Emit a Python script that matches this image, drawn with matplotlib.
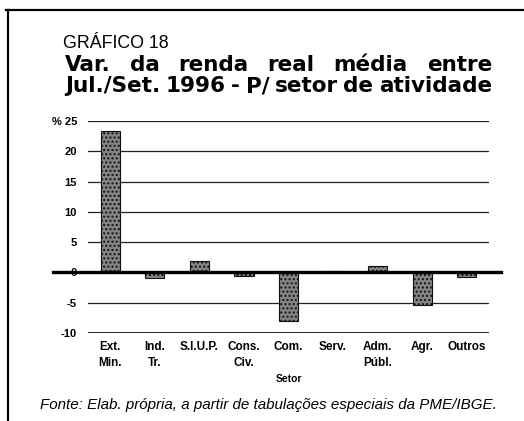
import matplotlib.pyplot as plt
import numpy as np
from matplotlib.lines import Line2D

plt.rcParams['font.family'] = ['Liberation Sans', 'DejaVu Sans']

# Data
setores = ["Ext.\nMin.", "Ind.\nTr.", "S.I.U.P.", "Cons.\nCiv.", "Com.",
           "Serv.", "Adm.\nPúbl.", "Agr.", "Outros"]
variacao = [23.3, -1.0, 1.9, -0.6, -8.1, 0.2, 1.0, -5.3, -0.7]
yticks = [-10, -5, 0, 5, 10, 15, 20, 25]
ytick_labels = ["-10", "-5", "0", "5", "10", "15", "20", "% 25"]

W, H = 524, 421
fig = plt.figure(figsize=(W / 100, H / 100), dpi=100)
renderer = fig.canvas.get_renderer()


def px(x, y):
    # pixel coords (from top-left) -> figure fraction
    return x / W, 1 - y / H


def fit_text(s, x0, x1, y, size, **kw):
    # shrink/grow font so the text spans x0..x1 pixels
    t = fig.text(*px(x0, y), s, fontsize=size, va="center", ha="left", **kw)
    w = t.get_window_extent(renderer).width
    t.set_fontsize(size * (x1 - x0) / w)
    return t


def justify_line(words, x0, x1, y, size, **kw):
    texts = [fig.text(*px(x0, y), w, fontsize=size, va="baseline", ha="left", **kw)
             for w in words]
    widths = [t.get_window_extent(renderer).width for t in texts]
    gap = ((x1 - x0) - sum(widths)) / (len(words) - 1)
    x = x0
    for t, w in zip(texts, widths):
        t.set_position(px(x, y))
        x += w + gap


# Frame lines (top and left)
fig.add_artist(Line2D([6 / W, 1], [1 - 10 / H] * 2, color="black", lw=1.6))
fig.add_artist(Line2D([8 / W] * 2, [0, 1 - 10 / H], color="black", lw=1.6))

# Titles
fit_text("GRÁFICO 18", 63, 168, 44, 12)
title_font = dict(fontweight="bold", family="DejaVu Sans")
justify_line(["Var.", "da", "renda", "real", "média", "entre"], 65, 492, 71,
             15.5, **title_font)
justify_line(["Jul./Set.", "1996", "-", "P/", "setor", "de", "atividade"],
             65, 492, 92, 15.5, **title_font)

# Chart
ax = fig.add_axes([88 / W, (H - 333) / H, 401 / W, 212 / H])
x = np.arange(len(setores))
ax.bar(x, variacao, width=0.43, color="#858585", edgecolor="#111111",
       hatch="....", linewidth=0.8, zorder=3)

for v in yticks:
    if v == 0:
        continue
    ax.axhline(v, color="#222222", lw=1.4 if v == -10 else 0.9, zorder=1)
ax.axhline(0, xmin=-0.087, xmax=1.03, color="black", lw=2.4, clip_on=False,
           zorder=4)

ax.set_xlim(-0.5, len(setores) - 0.5)
ax.set_ylim(-10, 25)
ax.set_yticks(yticks)
ax.set_yticklabels(ytick_labels, fontsize=8, fontweight="bold")
ax.set_xticks(x)
ax.set_xticklabels(setores, fontsize=8.5, fontweight="bold", linespacing=1.45,
                   va="top")
ax.tick_params(axis="y", length=0, pad=8)
ax.tick_params(axis="x", length=0, pad=6)
for s in ax.spines.values():
    s.set_visible(False)
ax.set_xlabel("Setor", fontsize=7.5, fontweight="bold", labelpad=3)

# Source note
fit_text("Fonte: Elab. própria, a partir de tabulações especiais da PME/IBGE.",
         40, 497, 405, 10, fontstyle="italic")

fig.savefig("out.png", dpi=100)
